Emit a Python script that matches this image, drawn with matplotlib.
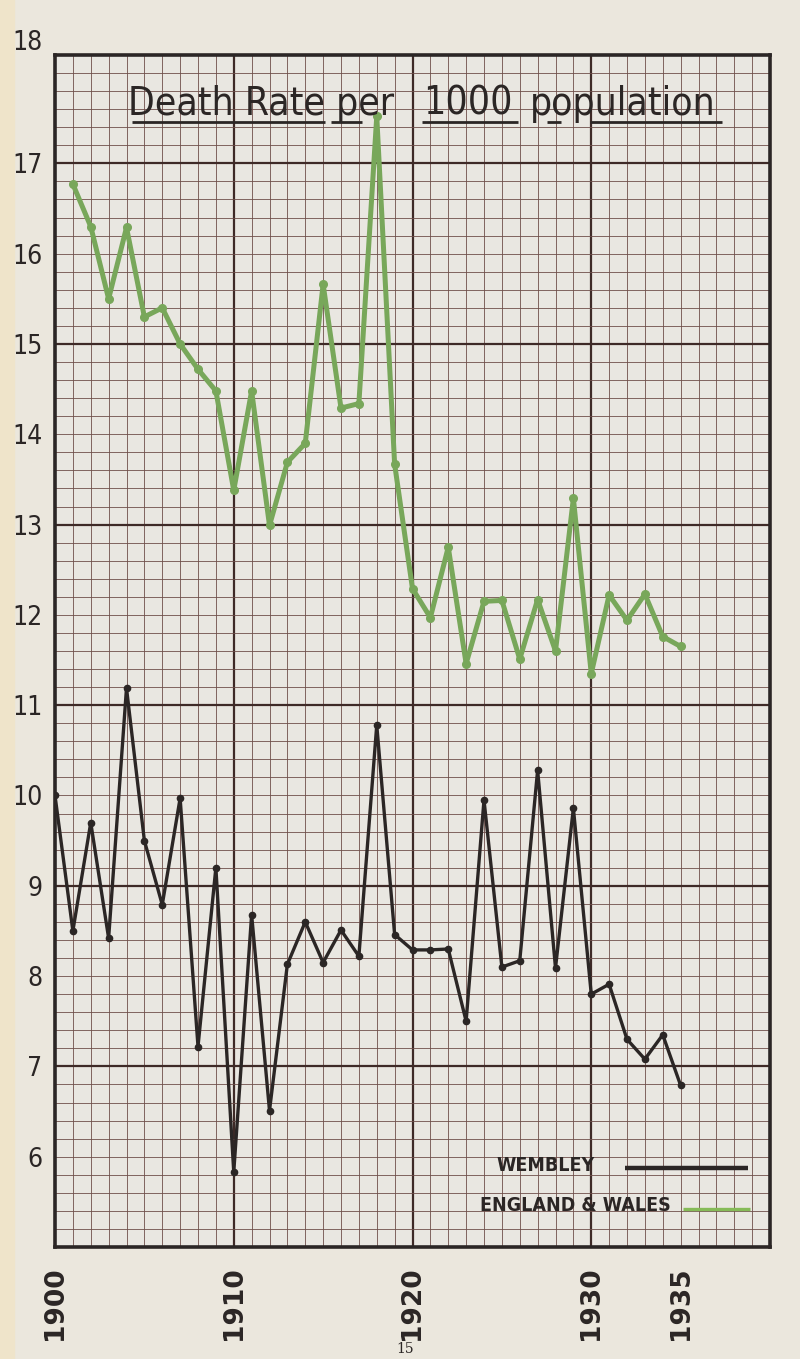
import numpy as np
import matplotlib
matplotlib.use('Agg')
import matplotlib.pyplot as plt
from matplotlib.patches import Rectangle

years_wembley = list(range(1900, 1936))
wembley = [10.0, 8.5, 9.7, 8.42, 11.19, 9.5, 8.79, 9.97, 7.22, 9.2,
           5.83, 8.68, 6.51, 8.13, 8.6, 8.15, 8.51, 8.22, 10.78, 8.46,
           8.29, 8.29, 8.3, 7.5, 9.95, 8.1, 8.17, 10.28, 8.09, 9.86,
           7.8, 7.91, 7.3, 7.08, 7.35, 6.79]

years_ew = list(range(1901, 1936))
england_wales = [16.77, 16.3, 15.5, 16.29, 15.3, 15.4, 15.0, 14.72, 14.48,
                 13.38, 14.48, 12.99, 13.69, 13.9, 15.66, 14.29, 14.34, 17.52,
                 13.67, 12.29, 11.97, 12.75, 11.46, 12.15, 12.16, 11.51, 12.17,
                 11.6, 13.29, 11.35, 12.22, 11.94, 12.23, 11.76, 11.65]

x_ticks = [1900, 1910, 1920, 1930, 1935]
y_ticks = [6, 7, 8, 9, 10, 11, 12, 13, 14, 15, 16, 17]

paper = '#ebe7dd'
ink = '#2b2625'
grid_col = '#6e4f4a'
green = '#78a75a'

fig = plt.figure(figsize=(8, 13.59), dpi=100, facecolor=paper)
ax = fig.add_axes([55/800, 1 - 1247/1359, 715/800, 1192/1359])
ax.set_facecolor('#e9e7e1')
ax.set_xlim(1900, 1940)
ax.set_ylim(5, 18.2)

# graph paper
for yr in range(1901, 1940):
    heavy = yr % 10 == 0
    ax.axvline(yr, color='#3e2a27' if heavy else grid_col, lw=1.6 if heavy else 0.6, zorder=1)
for k in range(1, 66):
    heavy = k % 10 == 0
    ax.axhline(5 + 0.2 * k, color='#3e2a27' if heavy else grid_col, lw=1.6 if heavy else 0.6, zorder=1)

ax.plot(years_ew, england_wales, color=green, lw=3.6, marker='o', ms=5.5,
        solid_joinstyle='round', zorder=3)
ax.plot(years_wembley, wembley, color=ink, lw=2.4, marker='o', ms=4.5,
        solid_joinstyle='round', zorder=4)

for s in ax.spines.values():
    s.set_linewidth(2.6)
    s.set_color(ink)

ax.set_xticks(x_ticks)
ax.set_xticklabels([str(x) for x in x_ticks], rotation=90, fontsize=19,
                   fontweight='bold', color=ink)
ax.set_yticks(y_ticks)
ax.set_yticklabels([str(y) for y in y_ticks], fontsize=19, color=ink,
                   fontstretch='condensed')
ax.tick_params(axis='x', length=0, pad=14)
ax.tick_params(axis='y', length=0, pad=9)
ax.annotate('18', xy=(0, 18.33), xycoords=('axes fraction', 'data'),
            xytext=(-9, 0), textcoords='offset points', ha='right', va='center',
            fontsize=19, color=ink, fontstretch='condensed', annotation_clip=False)

# title
tfont = dict(fontsize=28, color=ink, transform=ax.transAxes, va='baseline',
             zorder=5, fontstretch='condensed')
ax.text(0.102, 0.9497, 'Death Rate per', **tfont)
ax.text(0.515, 0.9497, '1000', **tfont)
ax.text(0.664, 0.9497, 'population', **tfont)
for x0, x1 in [(0.107, 0.377), (0.386, 0.43), (0.513, 0.648), (0.688, 0.708), (0.748, 0.933)]:
    ax.plot([x0, x1], [0.9440, 0.9440], color=ink, lw=2.0, transform=ax.transAxes,
            solid_capstyle='butt', zorder=5)

# legend
lfont = dict(transform=ax.transAxes, fontsize=14, fontweight='bold', color=ink,
             va='center', zorder=5, fontstretch='condensed')
ax.text(0.618, 0.068, 'WEMBLEY', **lfont)
ax.plot([0.797, 0.969], [0.066, 0.066], color=ink, lw=3.2, transform=ax.transAxes,
        solid_capstyle='butt', zorder=5)
ax.text(0.594, 0.035, 'ENGLAND & WALES', **lfont)
ax.plot([0.878, 0.972], [0.032, 0.032], color='#86bb58', lw=2.4, transform=ax.transAxes,
        solid_capstyle='butt', zorder=5)

fig.add_artist(Rectangle((0, 0), 14/800, 1, transform=fig.transFigure,
                         color='#efe4ca', zorder=0))
fig.text(405/800, 1 - 1349/1359, '15', ha='center', va='center', fontsize=10,
         family='DejaVu Serif', color=ink)

fig.savefig('out.png', dpi=100, facecolor=paper)
